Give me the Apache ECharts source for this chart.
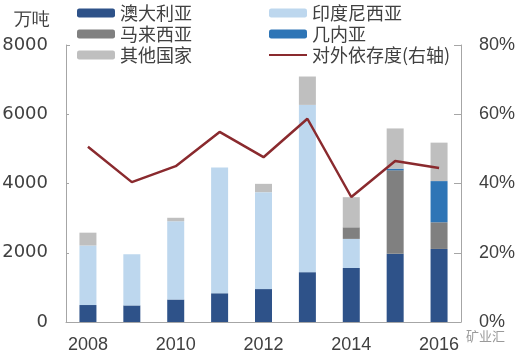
<!DOCTYPE html>
<html><head><meta charset="utf-8">
<script src="https://cdn.jsdelivr.net/npm/echarts@6/dist/echarts.min.js"></script>
<style>html,body{margin:0;padding:0;background:#fff}#c{width:524px;height:359px}</style>
</head><body><div id="c"></div>
<script>
const years = ['2008','2009','2010','2011','2012','2013','2014','2015','2016'];
const australia = [490, 480, 650, 830, 950, 1440, 1560, 1970, 2110];
const indonesia = [1720, 1480, 2260, 3630, 2800, 4830, 840, 0, 0];
const malaysia = [0, 0, 0, 0, 0, 0, 335, 2410, 770];
const guinea = [0, 0, 0, 0, 0, 0, 0, 50, 1190];
const others = [370, 0, 100, 0, 240, 820, 870, 1160, 1110];
const dependency = [50.6, 40.4, 45.0, 54.9, 47.6, 58.7, 36.1, 46.5, 44.5];
const leftTicks = [0, 2000, 4000, 6000, 8000];
const rightTicks = [0, 20, 40, 60, 80];

const names = ['澳大利亚','印度尼西亚','马来西亚','几内亚','其他国家','对外依存度(右轴)'];
const colors = ['#2E5289','#BDD7EE','#808080','#2E75B6','#BFBFBF','#8A2A2E'];
const font = 'Liberation Sans, Arial, sans-serif';
const legendText = {fontSize: 18, color: '#404040', fontFamily: 'Noto Sans CJK SC', lineHeight: 18};

const chart = echarts.init(document.getElementById('c'));
function bar(i, data) {
  return {name: names[i], type: 'bar', stack: 'total', data: data, barWidth: 17,
    itemStyle: {color: colors[i]}, yAxisIndex: 0};
}
chart.setOption({
  animation: false,
  color: colors,
  grid: {left: 66, right: 63, top: 45, bottom: 37, containLabel: false, outerBoundsMode: 'none'},
  legend: [
    {data: [names[0], names[2], names[4]], orient: 'vertical', left: 77, top: 4,
     itemWidth: 38, itemHeight: 9, itemGap: 3, textStyle: legendText, padding: 0},
    {data: [names[1], names[3], {name: names[5], itemStyle: {opacity: 0}}], orient: 'vertical', left: 268, top: 4,
     itemWidth: 38, itemHeight: 9, itemGap: 3, textStyle: legendText, padding: 0}
  ],
  graphic: [
    {type: 'text', left: 14, top: 11, style: {text: '万吨', fontSize: 18, fill: '#404040', font: '18px "Noto Sans CJK SC"'}},
    {type: 'line', shape: {x1: 66, y1: 45.5, x2: 70, y2: 45.5}, style: {stroke: '#A6A6A6', lineWidth: 1}},
    {type: 'line', shape: {x1: 457, y1: 45.5, x2: 461, y2: 45.5}, style: {stroke: '#A6A6A6', lineWidth: 1}},
    {type: 'text', left: 466, top: 330, style: {text: '矿业汇', font: '13px "Noto Sans CJK SC"', fill: '#9a9a9a'}}
  ],
  xAxis: {
    type: 'category', data: years,
    axisLine: {lineStyle: {color: '#A6A6A6', width: 1}},
    axisTick: {inside: true, interval: 1, length: 5, lineStyle: {color: '#A6A6A6'}},
    axisLabel: {interval: 1, fontSize: 18, color: '#404040', fontFamily: font, margin: 14}
  },
  yAxis: [
    {type: 'value', min: leftTicks[0], max: leftTicks[leftTicks.length-1], interval: 2000,
     splitLine: {show: false},
     axisLine: {show: true, lineStyle: {color: '#A6A6A6'}},
     axisTick: {show: true, inside: true, length: 3, lineStyle: {color: '#A6A6A6'}},
     axisLabel: {fontSize: 18, color: '#404040', fontFamily: 'DejaVu Sans', margin: 18,
       formatter: function (v) { return String(v); }}},
    {type: 'value', min: rightTicks[0], max: rightTicks[rightTicks.length-1], interval: 20,
     splitLine: {show: false},
     axisLine: {show: true, lineStyle: {color: '#A6A6A6'}},
     axisTick: {show: true, inside: true, length: 7, lineStyle: {color: '#A6A6A6'}},
     axisLabel: {fontSize: 18, color: '#404040', fontFamily: font, margin: 18, formatter: '{value}%'}}
  ],
  series: [
    bar(0, australia), bar(1, indonesia), bar(2, malaysia), bar(3, guinea), bar(4, others),
    {name: names[5], type: 'line', yAxisIndex: 1, data: dependency, symbol: 'none',
     lineStyle: {color: colors[5], width: 2.5}, itemStyle: {color: colors[5]}, z: 5}
  ]
});
</script></body></html>
